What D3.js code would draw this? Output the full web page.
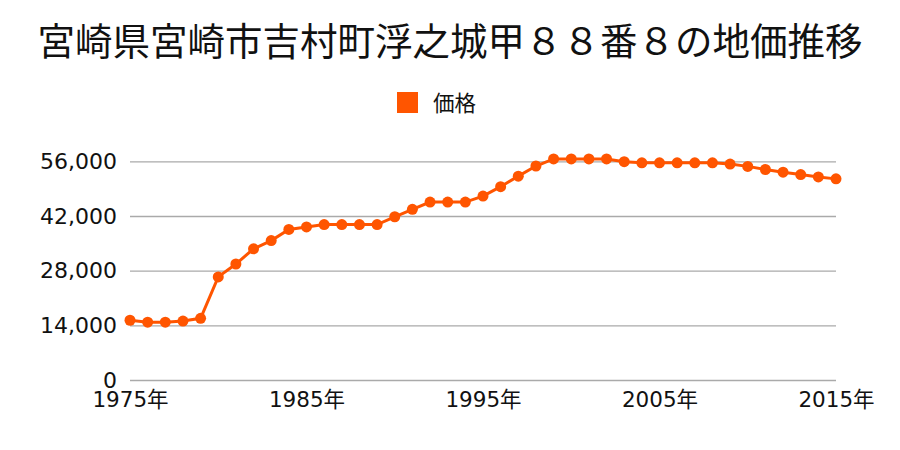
<!DOCTYPE html>
<html><head><meta charset="utf-8">
<script src="https://cdn.jsdelivr.net/npm/d3@7"></script>
<style>body{margin:0;background:#fff;} svg{display:block;}</style>
</head><body>
<svg id="c" width="900" height="450"></svg>
<script>
const title = "宮崎県宮崎市吉村町浮之城甲８８番８の地価推移";
const seriesName = "価格";
const years = d3.range(1975, 2016);
const prices = [15300,14800,14800,15100,15800,26400,29700,33600,35700,38550,39200,39800,39800,39800,39800,41800,43700,45550,45550,45550,47100,49500,52200,54800,56600,56600,56600,56600,55900,55600,55600,55600,55600,55600,55300,54700,53900,53200,52600,52000,51500];
const yTicks = [0,14000,28000,42000,56000];
const xTicks = [1975,1985,1995,2005,2015];

const cjkFont = '"Noto Sans CJK JP","Noto Sans",sans-serif';
const axisFont = '"DejaVu Sans","Noto Sans CJK JP",sans-serif';
const svg = d3.select("#c");
const x = d3.scaleLinear().domain([1975,2015]).range([130,836]);
const y = d3.scaleLinear().domain([0,56000]).range([380,161.3]);

svg.append("text").attr("x",450).attr("y",55).attr("text-anchor","middle")
  .style("font-family",cjkFont).style("font-size","37.5px").attr("fill","#111").text(title);

svg.append("rect").attr("x",397).attr("y",92).attr("width",21).attr("height",21).attr("fill","#ff5500");
svg.append("text").attr("x",433).attr("y",111).style("font-family",cjkFont).style("font-size","21.5px").attr("fill","#111").text(seriesName);

const gy = svg.append("g").attr("transform","translate(130,0)")
  .call(d3.axisLeft(y).tickValues(yTicks).tickSize(-706).tickPadding(13).tickFormat(d3.format(",")));
gy.select(".domain").remove();
gy.selectAll(".tick line").attr("stroke","#aaa").attr("stroke-width",1.3);
gy.selectAll(".tick text").style("font-size","22px").attr("fill","#111").style("font-family",axisFont);

const gx = svg.append("g").attr("transform","translate(0,381)")
  .call(d3.axisBottom(x).tickValues(xTicks).tickSize(0).tickPadding(10.5).tickFormat(d=>d+"年"));
gx.select(".domain").remove();
gx.selectAll(".tick text").style("font-size","21.5px").attr("fill","#111").style("font-family",axisFont);

const data = years.map((yr,i)=>({yr, v:prices[i]}));
svg.append("path").datum(data).attr("fill","none").attr("stroke","#ff5500").attr("stroke-width",3)
  .attr("d", d3.line().x(d=>x(d.yr)).y(d=>y(d.v)));
svg.selectAll("circle.p").data(data).enter().append("circle").attr("class","p")
  .attr("cx",d=>x(d.yr)).attr("cy",d=>y(d.v)).attr("r",5.5).attr("fill","#ff5500");
</script>
</body></html>
